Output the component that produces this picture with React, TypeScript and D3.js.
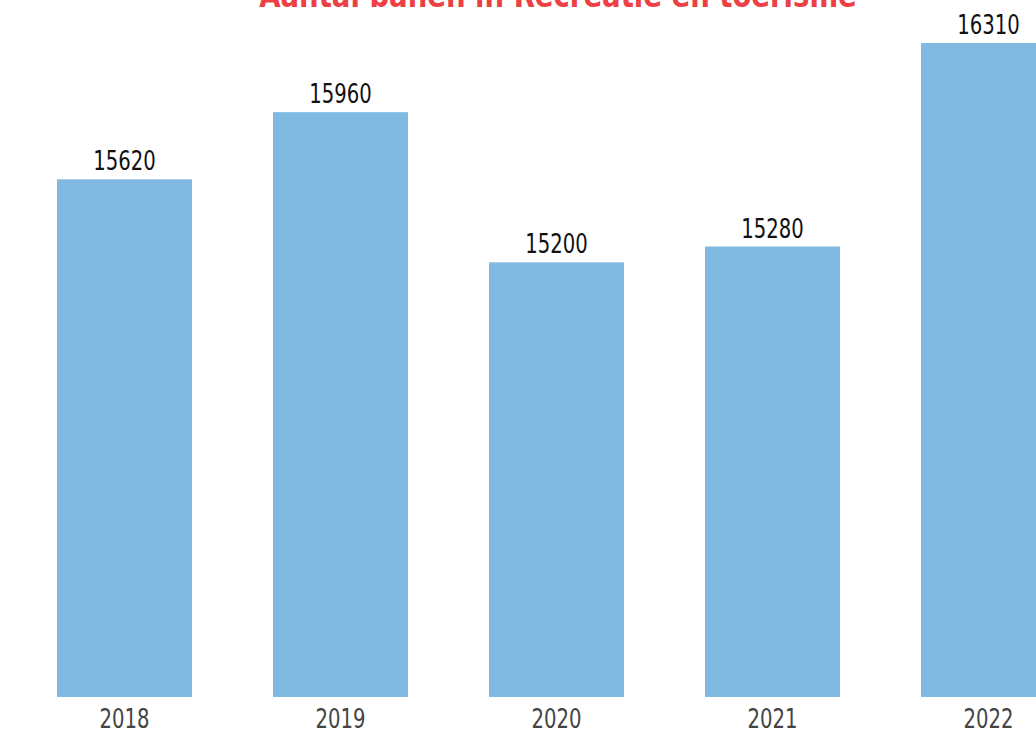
import React from "react";
import * as d3 from "d3";

const years = ["2018", "2019", "2020", "2021", "2022"];
const values = [15620, 15960, 15200, 15280, 16310];
const title = "Aantal banen in Recreatie en toerisme";

const W = 1100;
const H = 730;
const FONT = "'DejaVu Sans Condensed', 'Liberation Sans Narrow', 'Noto Sans', sans-serif";
const SX = 0.84;

export default function App() {
  const x = d3
    .scaleBand<string>()
    .domain(years)
    .range([16.5, 1096.5])
    .paddingInner(0.375)
    .paddingOuter(0.1875);
  const y = d3.scaleLinear().domain([13000, 16310]).range([697, 43]);

  return (
    <svg
      width={W}
      height={H}
      style={{ position: "absolute", left: 0, top: 0, display: "block", background: "#fff" }}
    >
      <text
        transform="translate(558,7) scale(0.9,1)"
        textAnchor="middle"
        fill="#ee4044"
        fontFamily={FONT}
        fontWeight="bold"
        fontSize={34}
      >
        {title}
      </text>
      {years.map((yr, i) => {
        const cx = (x(yr) as number) + x.bandwidth() / 2;
        return (
          <g key={yr}>
            <rect
              x={x(yr)}
              y={y(values[i])}
              width={x.bandwidth()}
              height={y(13000) - y(values[i])}
              fill="#80bae2"
            />
            <text
              transform={`translate(${cx},${y(values[i]) - 9}) scale(${SX},1)`}
              textAnchor="middle"
              fill="#111"
              fontFamily={FONT}
              fontSize={26}
            >
              {values[i]}
            </text>
            <text
              transform={`translate(${cx},728) scale(${SX},1)`}
              textAnchor="middle"
              fill="#444"
              fontFamily={FONT}
              fontSize={26}
            >
              {yr}
            </text>
          </g>
        );
      })}
    </svg>
  );
}
